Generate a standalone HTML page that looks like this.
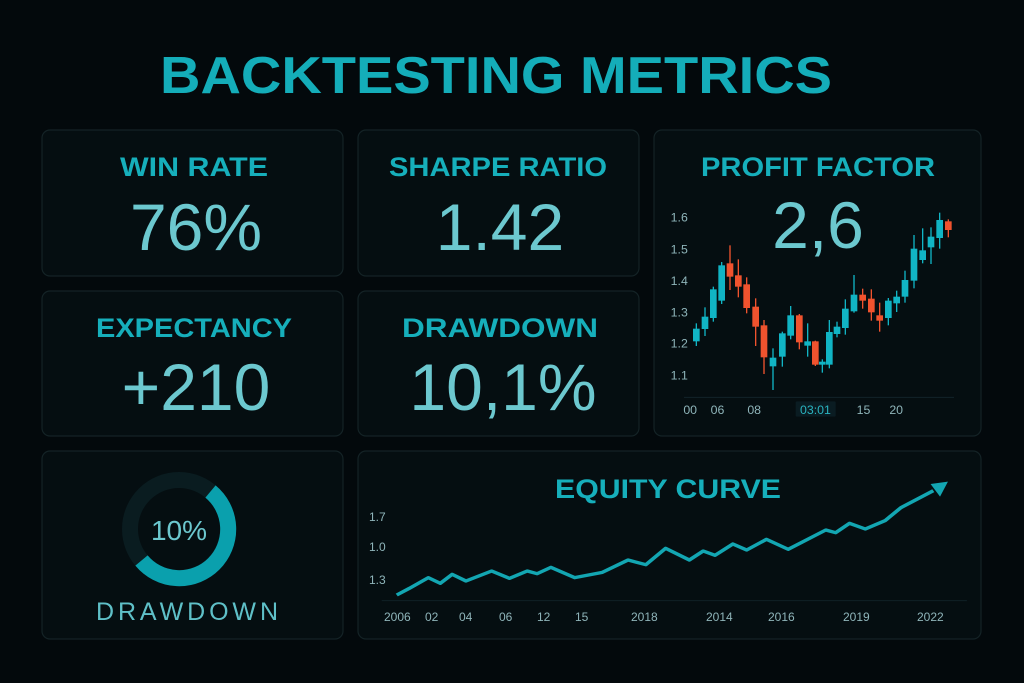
<!DOCTYPE html>
<html><head><meta charset="utf-8"><style>
html,body{margin:0;padding:0;background:#03090c;}
svg{display:block;}
text{font-family:"Liberation Sans",sans-serif;}
</style></head><body>
<svg width="1024" height="683" viewBox="0 0 1024 683" xmlns="http://www.w3.org/2000/svg">
<rect width="1024" height="683" fill="#03090c"/>
<g fill="#050e11" stroke="#142326" stroke-width="1.2">
<rect x="42" y="130" width="301" height="146" rx="8"/>
<rect x="358" y="130" width="281" height="146" rx="8"/>
<rect x="654" y="130" width="327" height="306" rx="8"/>
<rect x="42" y="291" width="301" height="145" rx="8"/>
<rect x="358" y="291" width="281" height="145" rx="8"/>
<rect x="42" y="451" width="301" height="188" rx="8"/>
<rect x="358" y="451" width="623" height="188" rx="8"/>
</g>
<text x="160" y="93" font-size="52" font-weight="bold" fill="#14adb9" textLength="672" lengthAdjust="spacingAndGlyphs">BACKTESTING METRICS</text>
<g font-size="27" fill="#16afbb" text-anchor="middle" font-weight="bold">
<text x="194" y="176" textLength="148" lengthAdjust="spacingAndGlyphs">WIN RATE</text>
<text x="498" y="176" textLength="218" lengthAdjust="spacingAndGlyphs">SHARPE RATIO</text>
<text x="818" y="176" textLength="234" lengthAdjust="spacingAndGlyphs">PROFIT FACTOR</text>
<text x="194" y="337" textLength="196" lengthAdjust="spacingAndGlyphs">EXPECTANCY</text>
<text x="500" y="337" textLength="196" lengthAdjust="spacingAndGlyphs">DRAWDOWN</text>
<text x="668" y="498" textLength="226" lengthAdjust="spacingAndGlyphs">EQUITY CURVE</text>
</g>
<g font-size="66" fill="#6cc8cf" text-anchor="middle">
<text x="196" y="250">76%</text>
<text x="500" y="250">1.42</text>
<text x="818" y="248">2,6</text>
<text x="196" y="410">+210</text>
<text x="503" y="410">10,1%</text>
</g>
<circle cx="179" cy="529" r="49" fill="none" stroke="#0a1c20" stroke-width="16"/>
<path d="M 210.5 491.5 A 49 49 0 1 1 141.5 560.5" fill="none" stroke="#0aa0ad" stroke-width="16"/>
<text x="179" y="540" font-size="28" fill="#6cc8cf" text-anchor="middle">10%</text>
<text x="187" y="620" font-size="25" fill="#5fc0c8" text-anchor="middle" textLength="182" lengthAdjust="spacing">DRAWDOWN</text>
<svg x="654" y="200" width="330" height="230" viewBox="0 0 990 690">
<line x1="90" y1="592" x2="900" y2="592" stroke="#12232a" stroke-width="3"/>
<g font-size="37" fill="#8fb5ba">
<text x="50" y="64">1.6</text><text x="50" y="160">1.5</text><text x="50" y="255">1.4</text>
<text x="50" y="350">1.3</text><text x="50" y="443">1.2</text><text x="50" y="538">1.1</text>
<rect x="425" y="604" width="120" height="46" rx="4" fill="#0a1c22"/>
<text x="88" y="642">00</text><text x="170" y="642">06</text><text x="280" y="642">08</text>
<text x="438" y="642" fill="#2ab4c0">03:01</text><text x="608" y="642">15</text><text x="706" y="642">20</text>
</g>
<g stroke-width="4">
<g stroke="#11b4c4" fill="#11b4c4">
<line x1="127" y1="370" x2="127" y2="438"/><rect x="119" y="388" width="16" height="34"/>
<line x1="153" y1="322" x2="153" y2="408"/><rect x="145" y="352" width="16" height="33"/>
<line x1="178" y1="260" x2="178" y2="365"/><rect x="170" y="270" width="16" height="82"/>
<line x1="203" y1="186" x2="203" y2="312"/><rect x="195" y="198" width="16" height="102"/>
<line x1="357" y1="445" x2="357" y2="570"/><rect x="349" y="475" width="16" height="22"/>
<line x1="385" y1="395" x2="385" y2="500"/><rect x="377" y="402" width="16" height="66"/>
<line x1="410" y1="318" x2="410" y2="418"/><rect x="402" y="348" width="16" height="57"/>
<line x1="461" y1="370" x2="461" y2="470"/><rect x="453" y="426" width="16" height="9"/>
<line x1="505" y1="478" x2="505" y2="518"/><rect x="497" y="487" width="16" height="5"/>
<line x1="526" y1="360" x2="526" y2="505"/><rect x="518" y="398" width="16" height="94"/>
<line x1="549" y1="365" x2="549" y2="412"/><rect x="541" y="382" width="16" height="18"/>
<line x1="574" y1="298" x2="574" y2="404"/><rect x="566" y="328" width="16" height="54"/>
<line x1="600" y1="225" x2="600" y2="338"/><rect x="592" y="286" width="16" height="46"/>
<line x1="703" y1="294" x2="703" y2="376"/><rect x="695" y="304" width="16" height="48"/>
<line x1="728" y1="272" x2="728" y2="336"/><rect x="720" y="292" width="16" height="16"/>
<line x1="753" y1="212" x2="753" y2="308"/><rect x="745" y="242" width="16" height="46"/>
<line x1="780" y1="105" x2="780" y2="265"/><rect x="772" y="148" width="16" height="92"/>
<line x1="806" y1="85" x2="806" y2="190"/><rect x="798" y="153" width="16" height="25"/>
<line x1="831" y1="82" x2="831" y2="192"/><rect x="823" y="112" width="16" height="28"/>
<line x1="857" y1="38" x2="857" y2="146"/><rect x="849" y="62" width="16" height="50"/>
</g>
<g stroke="#f0532e" fill="#f0532e">
<line x1="228" y1="136" x2="228" y2="270"/><rect x="220" y="192" width="16" height="36"/>
<line x1="253" y1="178" x2="253" y2="292"/><rect x="245" y="228" width="16" height="30"/>
<line x1="278" y1="232" x2="278" y2="340"/><rect x="270" y="255" width="16" height="67"/>
<line x1="305" y1="295" x2="305" y2="438"/><rect x="297" y="322" width="16" height="56"/>
<line x1="330" y1="360" x2="330" y2="522"/><rect x="322" y="378" width="16" height="92"/>
<line x1="436" y1="342" x2="436" y2="448"/><rect x="428" y="348" width="16" height="77"/>
<line x1="484" y1="422" x2="484" y2="498"/><rect x="476" y="426" width="16" height="66"/>
<line x1="626" y1="266" x2="626" y2="326"/><rect x="618" y="286" width="16" height="14"/>
<line x1="652" y1="268" x2="652" y2="362"/><rect x="644" y="298" width="16" height="37"/>
<line x1="677" y1="308" x2="677" y2="395"/><rect x="669" y="348" width="16" height="12"/>
<line x1="883" y1="58" x2="883" y2="112"/><rect x="875" y="66" width="16" height="22"/>
</g>
</g>
</svg>
<svg x="358" y="470" width="620" height="170" viewBox="0 0 1568 510" preserveAspectRatio="none">
<line x1="60" y1="392" x2="1540" y2="392" stroke="#0f2026" stroke-width="3"/>
<polyline fill="none" stroke="#13a6b2" stroke-width="10" stroke-linejoin="round" points="98,375 130,355 178,323 208,340 238,313 273,333 338,303 383,325 428,303 453,311 488,292 548,323 618,307 683,270 728,284 778,235 838,270 873,243 903,256 948,222 983,240 1033,208 1088,238 1183,180 1208,188 1243,160 1283,177 1333,152 1373,113 1455,62"/>
<polygon points="1492,35 1448,42 1472,80" fill="#13a6b2"/>
</svg>
<g font-size="12" fill="#8fb5ba">
<text x="369" y="521">1.7</text><text x="369" y="551">1.0</text><text x="369" y="584">1.3</text>
<text x="384" y="621">2006</text><text x="425" y="621">02</text><text x="459" y="621">04</text>
<text x="499" y="621">06</text><text x="537" y="621">12</text><text x="575" y="621">15</text>
<text x="631" y="621">2018</text><text x="706" y="621">2014</text><text x="768" y="621">2016</text>
<text x="843" y="621">2019</text><text x="917" y="621">2022</text>
</g>
</svg>
</body></html>
